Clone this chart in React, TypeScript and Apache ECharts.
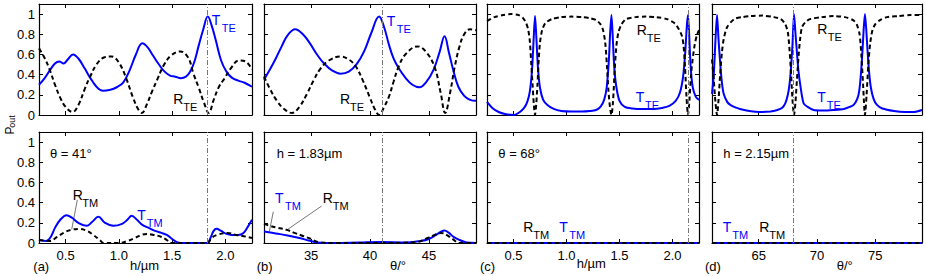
import React, { useEffect, useRef } from "react";
import * as echarts from "echarts";

// ---------- data ----------
const H_TICKS = [0.5, 1.0, 1.5, 2.0];
const THETA_TICKS_B = [35, 40, 45];
const THETA_TICKS_D = [65, 70, 75];
const Y_TICKS = [0, 0.2, 0.4, 0.6, 0.8, 1];

// (a) top: T_TE / R_TE vs h, theta = 41°
const A_T_X = [0.25, 0.30, 0.35, 0.40, 0.44, 0.48, 0.52, 0.57, 0.62, 0.68, 0.73, 0.79, 0.85, 0.92, 0.98, 1.04, 1.10, 1.16, 1.22, 1.27, 1.32, 1.37, 1.42, 1.48, 1.53, 1.58, 1.63, 1.67, 1.71, 1.75, 1.79, 1.835, 1.87, 1.91, 1.96, 2.01, 2.06, 2.12, 2.18, 2.25];
const A_T_Y = [0.30, 0.36, 0.44, 0.51, 0.53, 0.51, 0.55, 0.60, 0.56, 0.46, 0.37, 0.28, 0.24, 0.25, 0.275, 0.32, 0.44, 0.60, 0.71, 0.67, 0.59, 0.51, 0.44, 0.39, 0.38, 0.365, 0.38, 0.43, 0.53, 0.69, 0.84, 0.975, 0.89, 0.74, 0.54, 0.43, 0.37, 0.34, 0.32, 0.28];
const A_R_X = [0.25, 0.30, 0.35, 0.40, 0.45, 0.50, 0.565, 0.62, 0.68, 0.73, 0.79, 0.86, 0.93, 1.00, 1.07, 1.13, 1.18, 1.216, 1.26, 1.31, 1.36, 1.42, 1.49, 1.577, 1.65, 1.70, 1.75, 1.80, 1.844, 1.89, 1.94, 1.99, 2.05, 2.127, 2.19, 2.25];
const A_R_Y = [0.66, 0.57, 0.45, 0.30, 0.17, 0.08, 0.03, 0.10, 0.26, 0.38, 0.50, 0.57, 0.58, 0.52, 0.36, 0.18, 0.06, 0.02, 0.10, 0.23, 0.35, 0.49, 0.59, 0.63, 0.57, 0.41, 0.27, 0.12, 0.02, 0.15, 0.28, 0.36, 0.46, 0.54, 0.53, 0.45];

// (b) top: T_TE / R_TE vs theta, h = 1.83 µm
const B_T_X = [31, 31.5, 32, 32.5, 33, 33.65, 34.3, 34.9, 35.5, 36.1, 36.8, 37.5, 38.2, 38.9, 39.5, 40.1, 40.77, 41.2, 41.6, 42.0, 42.4, 43.0, 43.6, 44.2, 44.8, 45.4, 45.9, 46.33, 46.7, 47.1, 47.5, 48.0, 48.5, 49];
const B_T_Y = [0.35, 0.45, 0.56, 0.68, 0.79, 0.85, 0.80, 0.71, 0.60, 0.51, 0.44, 0.41, 0.43, 0.51, 0.63, 0.81, 0.975, 0.87, 0.70, 0.56, 0.47, 0.37, 0.30, 0.275, 0.33, 0.45, 0.62, 0.78, 0.62, 0.43, 0.28, 0.19, 0.15, 0.14];
const B_R_X = [31, 31.5, 32.1, 32.7, 33.37, 34.0, 34.65, 35.2, 35.8, 36.5, 37.5, 38.2, 38.8, 39.4, 40.0, 40.4, 40.77, 41.2, 41.6, 42.0, 42.4, 43.0, 44.05, 44.8, 45.5, 46.0, 46.38, 46.8, 47.2, 47.6, 48.0, 48.5, 49];
const B_R_Y = [0.38, 0.26, 0.14, 0.06, 0.02, 0.08, 0.21, 0.34, 0.46, 0.54, 0.58, 0.55, 0.48, 0.34, 0.17, 0.06, 0.0, 0.08, 0.18, 0.33, 0.47, 0.60, 0.68, 0.62, 0.47, 0.22, 0.02, 0.22, 0.48, 0.68, 0.80, 0.85, 0.84];

// (c) top: T_TE / R_TE vs h, theta = 68°
const C_T_X = [0.25, 0.30, 0.36, 0.42, 0.50, 0.56, 0.60, 0.63, 0.655, 0.675, 0.69, 0.703, 0.715, 0.73, 0.75, 0.78, 0.82, 0.88, 0.95, 1.05, 1.15, 1.22, 1.28, 1.32, 1.355, 1.38, 1.40, 1.412, 1.424, 1.436, 1.45, 1.47, 1.50, 1.55, 1.62, 1.72, 1.82, 1.90, 1.97, 2.03, 2.07, 2.10, 2.12, 2.135, 2.146, 2.157, 2.17, 2.19, 2.22, 2.25];
const C_T_Y = [0.13, 0.07, 0.03, 0.01, 0.0, 0.03, 0.07, 0.13, 0.24, 0.45, 0.75, 0.98, 0.78, 0.48, 0.27, 0.15, 0.1, 0.06, 0.04, 0.035, 0.035, 0.04, 0.05, 0.08, 0.15, 0.28, 0.55, 0.82, 0.99, 0.78, 0.48, 0.28, 0.14, 0.08, 0.065, 0.06, 0.06, 0.07, 0.09, 0.14, 0.22, 0.38, 0.62, 0.88, 0.99, 0.8, 0.5, 0.28, 0.18, 0.15];
const C_R_X = [0.25, 0.32, 0.40, 0.48, 0.55, 0.59, 0.62, 0.64, 0.655, 0.668, 0.68, 0.692, 0.703, 0.714, 0.726, 0.738, 0.75, 0.77, 0.80, 0.86, 0.95, 1.05, 1.15, 1.22, 1.28, 1.32, 1.345, 1.365, 1.382, 1.395, 1.41, 1.424, 1.438, 1.455, 1.47, 1.49, 1.52, 1.56, 1.65, 1.75, 1.85, 1.95, 2.02, 2.06, 2.09, 2.105, 2.118, 2.132, 2.146, 2.16, 2.175, 2.19, 2.21, 2.23, 2.25];
const C_R_Y = [0.93, 0.97, 0.99, 1.0, 0.99, 0.96, 0.91, 0.84, 0.72, 0.5, 0.3, 0.1, 0.0, 0.1, 0.3, 0.55, 0.72, 0.84, 0.91, 0.95, 0.97, 0.975, 0.97, 0.96, 0.94, 0.9, 0.84, 0.72, 0.48, 0.25, 0.08, 0.0, 0.12, 0.45, 0.68, 0.82, 0.9, 0.95, 0.97, 0.975, 0.97, 0.95, 0.91, 0.85, 0.78, 0.68, 0.48, 0.18, 0.0, 0.15, 0.4, 0.55, 0.7, 0.79, 0.84];

// (d) top: T_TE / R_TE vs theta, h = 2.15 µm
const D_T_X = [61, 61.15, 61.3, 61.43, 61.56, 61.71, 61.85, 62.0, 62.3, 62.57, 63.0, 63.4, 64.2, 65.1, 66.0, 66.6, 67.0, 67.28, 67.5, 67.65, 67.78, 67.9, 68.03, 68.16, 68.28, 68.4, 68.55, 68.85, 69.2, 69.7, 70.5, 71.4, 72.3, 72.8, 73.14, 73.45, 73.62, 73.76, 73.9, 74.0, 74.11, 74.22, 74.33, 74.47, 74.62, 74.85, 75.14, 75.6, 76.6, 77.5, 78.3, 79];
const D_T_Y = [0.21, 0.40, 0.75, 0.99, 0.75, 0.5, 0.32, 0.21, 0.13, 0.10, 0.075, 0.06, 0.04, 0.03, 0.035, 0.05, 0.07, 0.116, 0.2, 0.31, 0.48, 0.7, 1.0, 0.8, 0.62, 0.45, 0.31, 0.116, 0.08, 0.05, 0.045, 0.05, 0.06, 0.08, 0.1, 0.16, 0.24, 0.4, 0.64, 0.85, 1.0, 0.85, 0.64, 0.42, 0.27, 0.16, 0.1, 0.065, 0.04, 0.03, 0.03, 0.05];
const D_R_X = [61, 61.15, 61.3, 61.43, 61.56, 61.7, 61.85, 62.0, 62.29, 62.9, 63.6, 64.3, 65.3, 66.3, 66.9, 67.28, 67.5, 67.65, 67.78, 67.9, 68.03, 68.15, 68.28, 68.43, 68.56, 68.71, 69.0, 69.4, 70.4, 71.4, 72.4, 73.1, 73.4, 73.65, 73.8, 73.95, 74.11, 74.25, 74.4, 74.56, 74.75, 75.0, 75.4, 76.0, 77.0, 78.0, 79];
const D_R_Y = [0.55, 0.35, 0.12, 0.0, 0.15, 0.4, 0.62, 0.75, 0.87, 0.95, 0.97, 0.98, 0.985, 0.97, 0.95, 0.9, 0.82, 0.64, 0.4, 0.15, 0.0, 0.12, 0.35, 0.6, 0.76, 0.87, 0.92, 0.95, 0.97, 0.98, 0.97, 0.94, 0.9, 0.8, 0.6, 0.3, 0.0, 0.2, 0.5, 0.71, 0.84, 0.9, 0.94, 0.97, 0.98, 0.99, 0.99];

// (a) bottom: T_TM / R_TM vs h
const A_TM_T_X = [0.25, 0.32, 0.36, 0.40, 0.45, 0.508, 0.56, 0.62, 0.697, 0.75, 0.807, 0.87, 0.948, 1.03, 1.08, 1.12, 1.17, 1.22, 1.28, 1.34, 1.40, 1.45, 1.50, 1.54, 1.58, 1.65, 1.75, 1.83, 1.86, 1.89, 1.917, 1.96, 2.01, 2.06, 2.12, 2.17, 2.21, 2.25];
const A_TM_T_Y = [0.03, 0.02, 0.06, 0.15, 0.23, 0.275, 0.25, 0.20, 0.17, 0.21, 0.26, 0.20, 0.17, 0.19, 0.23, 0.27, 0.23, 0.18, 0.15, 0.12, 0.10, 0.08, 0.04, 0.01, 0.0, 0.0, 0.0, 0.0, 0.05, 0.12, 0.14, 0.12, 0.09, 0.08, 0.08, 0.10, 0.16, 0.23];
const A_TM_R_X = [0.25, 0.35, 0.42, 0.48, 0.55, 0.634, 0.70, 0.76, 0.82, 0.86, 1.00, 1.08, 1.15, 1.21, 1.263, 1.33, 1.40, 1.45, 1.49, 1.83, 1.87, 1.92, 2.02, 2.10, 2.16, 2.25];
const A_TM_R_Y = [0.03, 0.02, 0.06, 0.10, 0.13, 0.14, 0.12, 0.08, 0.03, 0.0, 0.0, 0.02, 0.05, 0.08, 0.09, 0.08, 0.06, 0.03, 0.0, 0.0, 0.05, 0.08, 0.10, 0.08, 0.07, 0.05];

// (b) bottom: T_TM / R_TM vs theta
const B_TM_T_X = [31, 32, 33, 34, 34.8, 35.5, 37, 39, 41, 43, 44.3, 45.0, 45.6, 46.0, 46.33, 46.7, 47.1, 47.6, 48.2, 49];
const B_TM_T_Y = [0.115, 0.095, 0.075, 0.05, 0.025, 0.005, 0.0, 0.005, 0.01, 0.005, 0.02, 0.04, 0.08, 0.11, 0.125, 0.10, 0.06, 0.03, 0.005, 0.0];
const B_TM_R_X = [31, 31.5, 32.2, 32.94, 33.6, 34.3, 35, 35.6, 37, 41, 44, 44.9, 45.5, 46.04, 46.5, 47, 47.6, 49];
const B_TM_R_Y = [0.19, 0.17, 0.15, 0.13, 0.10, 0.07, 0.04, 0.01, 0.0, 0.0, 0.01, 0.05, 0.08, 0.10, 0.08, 0.04, 0.0, 0.0];

// (c), (d) bottom: all zero
const C_TM_X = [0.25, 2.25];
const C_TM_T_Y = [0, 0];
const C_TM_R_Y = [0, 0];
const D_TM_X = [61, 79];
const D_TM_T_Y = [0, 0];
const D_TM_R_Y = [0, 0];

// vertical markers
const MARK_A = 1.83;
const MARK_B = 41;
const MARK_C = 2.15;
const MARK_D = 68;

// ---------- layout / styles ----------
const FONT = '"Liberation Sans", Arial, Helvetica, sans-serif';
const BLUE = "#0000ff";
const zip = (xs: number[], ys: number[]) => xs.map((x, i) => [x, ys[i]]);

type Panel = {
  left: number; top: number; width: number; height: number;
  xMin: number; xMax: number; xTicks: number[]; xFmt: (v: number) => string;
  showX: boolean; showY: boolean; mark: number;
  T: number[][]; R: number[][]; smooth: number;
};

const hFmt = (v: number) => v.toFixed(1);
const tFmt = (v: number) => String(v);
const COLS = [
  { left: 39, width: 213 },
  { left: 264, width: 212 },
  { left: 487, width: 212 },
  { left: 712, width: 210 },
];
const TOP_ROW = { top: 4, height: 111 };
const BOT_ROW = { top: 132, height: 111 };

const PANELS: Panel[] = [
  { ...COLS[0], ...TOP_ROW, xMin: 0.25, xMax: 2.25, xTicks: H_TICKS, xFmt: hFmt, showX: false, showY: true, mark: MARK_A, T: zip(A_T_X, A_T_Y), R: zip(A_R_X, A_R_Y), smooth: 0.4 },
  { ...COLS[1], ...TOP_ROW, xMin: 31, xMax: 49, xTicks: THETA_TICKS_B, xFmt: tFmt, showX: false, showY: false, mark: MARK_B, T: zip(B_T_X, B_T_Y), R: zip(B_R_X, B_R_Y), smooth: 0.4 },
  { ...COLS[2], ...TOP_ROW, xMin: 0.25, xMax: 2.25, xTicks: H_TICKS, xFmt: hFmt, showX: false, showY: false, mark: MARK_C, T: zip(C_T_X, C_T_Y), R: zip(C_R_X, C_R_Y), smooth: 0.25 },
  { ...COLS[3], ...TOP_ROW, xMin: 61, xMax: 79, xTicks: THETA_TICKS_D, xFmt: tFmt, showX: false, showY: false, mark: MARK_D, T: zip(D_T_X, D_T_Y), R: zip(D_R_X, D_R_Y), smooth: 0.25 },
  { ...COLS[0], ...BOT_ROW, xMin: 0.25, xMax: 2.25, xTicks: H_TICKS, xFmt: hFmt, showX: true, showY: true, mark: MARK_A, T: zip(A_TM_T_X, A_TM_T_Y), R: zip(A_TM_R_X, A_TM_R_Y), smooth: 0.4 },
  { ...COLS[1], ...BOT_ROW, xMin: 31, xMax: 49, xTicks: THETA_TICKS_B, xFmt: tFmt, showX: true, showY: false, mark: MARK_B, T: zip(B_TM_T_X, B_TM_T_Y), R: zip(B_TM_R_X, B_TM_R_Y), smooth: 0.4 },
  { ...COLS[2], ...BOT_ROW, xMin: 0.25, xMax: 2.25, xTicks: H_TICKS, xFmt: hFmt, showX: true, showY: false, mark: MARK_C, T: zip(C_TM_X, C_TM_T_Y), R: zip(C_TM_X, C_TM_R_Y), smooth: 0 },
  { ...COLS[3], ...BOT_ROW, xMin: 61, xMax: 79, xTicks: THETA_TICKS_D, xFmt: tFmt, showX: true, showY: false, mark: MARK_D, T: zip(D_TM_X, D_TM_T_Y), R: zip(D_TM_X, D_TM_R_Y), smooth: 0 },
];

function txt(x: number, y: number, text: string, size: number, color = "#000", align = "left", rotation = 0) {
  return {
    type: "text", x, y, rotation, silent: true,
    style: { text, fill: color, font: `${size}px ${FONT}`, align, verticalAlign: "middle" },
  };
}
function subLabel(x: number, y: number, main: string, sub: string, subX: number, color: string) {
  return [txt(x, y, main, 14, color), txt(subX, y + 8, sub, 11, color)];
}
function leader(x1: number, y1: number, x2: number, y2: number) {
  return { type: "line", silent: true, shape: { x1, y1, x2, y2 }, style: { stroke: "#555", lineWidth: 0.8 } };
}

function buildOption() {
  const grid = PANELS.map((p) => ({ left: p.left, top: p.top, width: p.width, height: p.height, containLabel: false }));
  const axisLine = { show: true, onZero: false, lineStyle: { color: "#000", width: 1.2 } };
  const xAxis: any[] = [];
  const yAxis: any[] = [];
  PANELS.forEach((p, i) => {
    const base = {
      type: "value", gridIndex: i, min: p.xMin, max: p.xMax, splitLine: { show: false }, axisLine,
      axisTick: { show: true, inside: true, length: 4, customValues: p.xTicks, lineStyle: { color: "#000" } },
    };
    xAxis.push({
      ...base, position: "bottom",
      axisLabel: { show: p.showX, customValues: p.xTicks, formatter: p.xFmt, margin: 6, color: "#000", fontSize: 13, fontFamily: FONT },
    });
    const ybase = {
      type: "value", gridIndex: i, min: 0, max: 1.1, splitLine: { show: false }, axisLine,
      axisTick: { show: true, inside: true, length: 4, customValues: Y_TICKS, lineStyle: { color: "#000" } },
    };
    yAxis.push({
      ...ybase, position: "left",
      axisLabel: { show: p.showY, customValues: Y_TICKS, formatter: (v: number) => String(v), margin: 4, color: "#000", fontSize: 13, fontFamily: FONT },
    });
  });
  PANELS.forEach((p, i) => {
    xAxis.push({
      type: "value", gridIndex: i, min: p.xMin, max: p.xMax, position: "top", splitLine: { show: false }, axisLine,
      axisTick: { show: true, inside: true, length: 4, customValues: p.xTicks, lineStyle: { color: "#000" } },
      axisLabel: { show: false },
    });
    yAxis.push({
      type: "value", gridIndex: i, min: 0, max: 1.1, position: "right", splitLine: { show: false }, axisLine,
      axisTick: { show: true, inside: true, length: 4, customValues: Y_TICKS, lineStyle: { color: "#000" } },
      axisLabel: { show: false },
    });
  });

  const series: any[] = [];
  PANELS.forEach((p, i) => {
    series.push({
      type: "line", xAxisIndex: i, yAxisIndex: i, data: p.T, showSymbol: false, symbol: "none",
      smooth: p.smooth, lineStyle: { color: BLUE, width: 2 }, z: 3,
      markLine: {
        silent: true, symbol: ["none", "none"], label: { show: false },
        lineStyle: { color: "#777", width: 1, type: [5, 2, 1, 2] },
        data: [{ xAxis: p.mark }],
      },
    });
    series.push({
      type: "line", xAxisIndex: i, yAxisIndex: i, data: p.R, showSymbol: false, symbol: "none",
      smooth: p.smooth, lineStyle: { color: "#000", width: 2, type: [4.5, 3] }, z: 4,
    });
  });

  const graphic: any[] = [
    // top row labels
    ...subLabel(211.7, 20, "T", "TE", 221.7, BLUE),
    ...subLabel(173.3, 98.7, "R", "TE", 183.3, "#000"),
    ...subLabel(386.7, 20.5, "T", "TE", 396.7, BLUE),
    ...subLabel(340, 98.8, "R", "TE", 350, "#000"),
    ...subLabel(636.7, 30, "R", "TE", 646.7, "#000"),
    ...subLabel(635.7, 96.7, "T", "TE", 645, BLUE),
    ...subLabel(817.3, 29.3, "R", "TE", 827.7, "#000"),
    ...subLabel(817.3, 96.7, "T", "TE", 826.7, BLUE),
    // bottom row labels
    ...subLabel(72.7, 194.7, "R", "TM", 82.3, "#000"),
    ...subLabel(137.3, 214.7, "T", "TM", 146.7, BLUE),
    ...subLabel(275, 198.3, "T", "TM", 285, BLUE),
    ...subLabel(322.7, 198.3, "R", "TM", 332.7, "#000"),
    ...subLabel(523.3, 226.7, "R", "TM", 533.3, "#000"),
    ...subLabel(559.3, 226.7, "T", "TM", 569.3, BLUE),
    ...subLabel(722.7, 226.7, "T", "TM", 732.3, BLUE),
    ...subLabel(759.3, 226.7, "R", "TM", 769.3, "#000"),
    leader(77.3, 200, 71.7, 229.3),
    leader(273.3, 211.7, 269.3, 231.7),
    leader(321.7, 206, 286.7, 230),
    // conditions
    txt(50, 153.3, "θ = 41°", 13),
    txt(276.7, 153.3, "h = 1.83µm", 13),
    txt(498.3, 153.3, "θ = 68°", 13),
    txt(723.3, 153.3, "h = 2.15µm", 13),
    // axis names and panel tags
    txt(33.3, 266.7, "(a)", 13),
    txt(130, 265.5, "h/µm", 13),
    txt(256.7, 266.7, "(b)", 13),
    txt(390, 265, "θ/°", 13),
    txt(480, 266.7, "(c)", 13),
    txt(576.7, 263, "h/µm", 13),
    txt(705, 266.7, "(d)", 13),
    txt(836.7, 265, "θ/°", 13),
    // y-axis name P_out (rotated)
    txt(9.5, 130.5, "P", 12, "#000", "center", Math.PI / 2),
    txt(11.5, 121.5, "out", 9, "#000", "center", Math.PI / 2),
  ];

  return { animation: false, backgroundColor: "#fff", grid, xAxis, yAxis, series, graphic };
}

export default function App() {
  const ref = useRef<HTMLDivElement>(null);
  useEffect(() => {
    if (!ref.current) return;
    const chart = echarts.init(ref.current, undefined, { renderer: "svg" });
    chart.setOption(buildOption() as any);
    return () => chart.dispose();
  }, []);
  return <div ref={ref} style={{ position: "fixed", left: 0, top: 0, width: 926, height: 276, background: "#fff" }} />;
}
